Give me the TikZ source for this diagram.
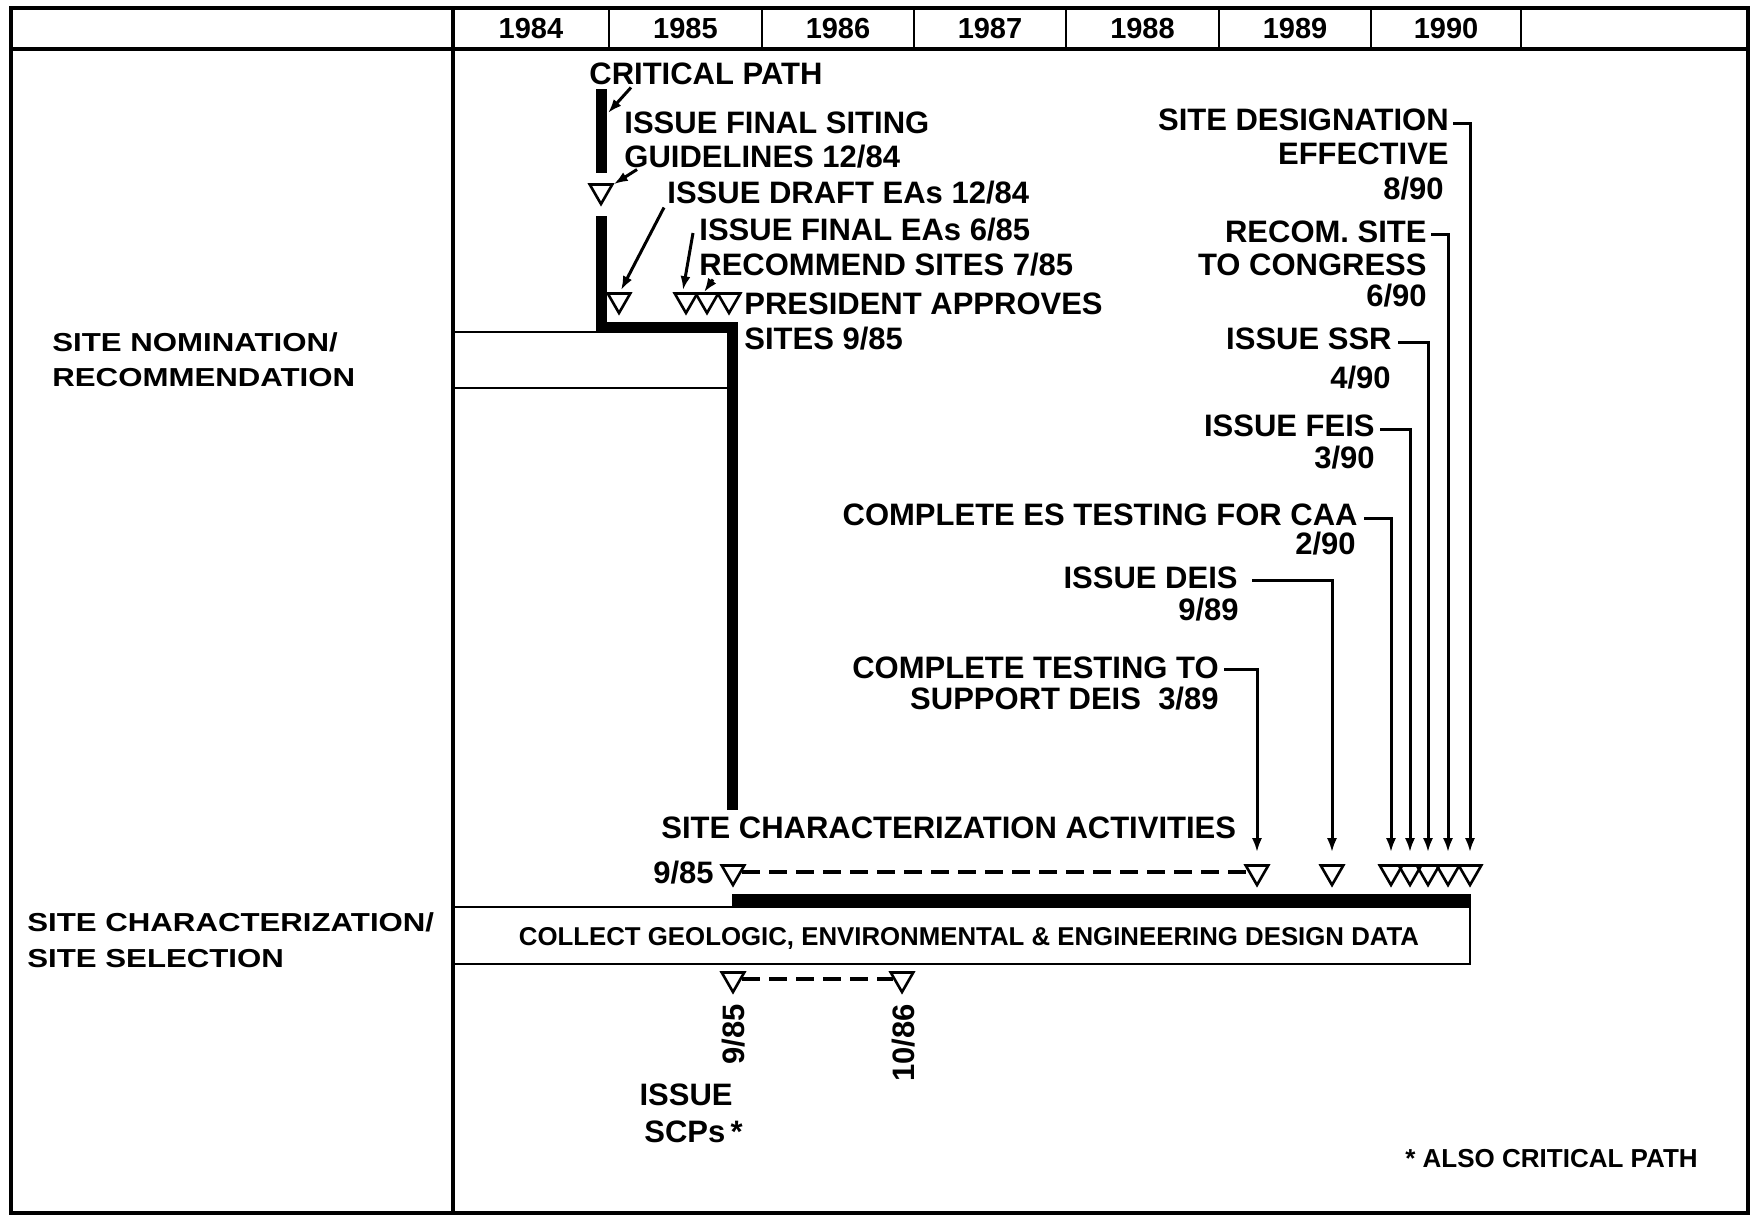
\documentclass[tikz,border=0pt]{standalone}
\usepackage{fontspec}
\setmainfont{Liberation Sans}
\newfontfamily\widefont{Liberation Sans}[FakeStretch=1.2]
\usetikzlibrary{arrows.meta,shapes.geometric}
\begin{document}
\begin{tikzpicture}[x=0.5pt,y=-0.5pt,
  frame/.style={line width=2pt},
  thinln/.style={line width=1.4pt},
  crit/.style={line width=5.5pt},
  conn/.style={line width=1.5pt},
  arr/.style={conn,-{Latex[length=7pt,width=5pt]}},
  dline/.style={line width=2pt,dash pattern=on 9pt off 4.5pt},
  tri/.style={draw,regular polygon,regular polygon sides=3,shape border rotate=180,
    minimum size=13pt,inner sep=0pt,line width=1.3pt},
  lab/.style={font=\bfseries\fontsize{15.5}{16}\selectfont,inner sep=0pt,text height=11.1pt,text depth=0pt},
  yr/.style={font=\bfseries\fontsize{14.5}{15}\selectfont,inner sep=0pt,text height=10.4pt,text depth=0pt},
  wlab/.style={font=\widefont\bfseries\fontsize{13}{14}\selectfont,inner sep=0pt,text height=9.3pt,text depth=0pt,anchor=west},
  clab/.style={font=\bfseries\fontsize{12.9}{13}\selectfont,inner sep=0pt,text height=9.2pt,text depth=0pt},
  nlab/.style={font=\bfseries\fontsize{13}{14}\selectfont,inner sep=0pt,text height=9.3pt,text depth=0pt}
]
\fill[white] (0,0) rectangle (1753,1216);
\useasboundingbox (0,0) rectangle (1753,1216);

% frame and header
\draw[frame] (11,8) rectangle (1748,1213);
\draw[frame] (11,49) -- (1748,49);
\draw[frame] (453,8) -- (453,1213);
\foreach \x in {609,762,914,1066,1219,1371,1521}
  \draw[thinln] (\x,8) -- (\x,49);
\node[yr] (y84) at (531,28) {1984};
\node[yr] (y85) at (685.5,28) {1985};
\node[yr] (y86) at (838,28) {1986};
\node[yr] (y87) at (990,28) {1987};
\node[yr] (y88) at (1142.5,28) {1988};
\node[yr] (y89) at (1295,28) {1989};
\node[yr] (y90) at (1446,28) {1990};

% row labels
\node[wlab] (sn1) at (52,342) {SITE NOMINATION/};
\node[wlab] (sn2) at (52,377) {RECOMMENDATION};
\node[wlab] (sc1) at (27,922) {SITE CHARACTERIZATION/};
\node[wlab] (sc2) at (27,958) {SITE SELECTION};

% critical path (site nomination)
\draw[crit] (601,89) -- (601,173);
\node[tri] (t1) at (601,191) {};
\draw[crit,line join=miter] (601,216) -- (601,327.5) -- (732,327.5) -- (732,810);
\draw[thinln] (453,332) -- (596,332);
\draw[thinln] (453,388) -- (727,388);
\node[tri] (t2) at (619,300) {};
\node[tri] (t3) at (686,300) {};
\node[tri] (t4) at (707,300) {};
\node[tri] (t5) at (729,300) {};

\node[lab,anchor=west] (cp) at (589,73) {CRITICAL PATH};
\node[lab,anchor=west] (ifs) at (624,122) {ISSUE FINAL SITING};
\node[lab,anchor=west] (gl) at (624,156) {GUIDELINES 12/84};
\node[lab,anchor=west] (ide) at (667,192) {ISSUE DRAFT EAs 12/84};
\node[lab,anchor=west] (ife) at (699,229) {ISSUE FINAL EAs 6/85};
\node[lab,anchor=west] (rs) at (699,264) {RECOMMEND SITES 7/85};
\node[lab,anchor=west] (pa) at (744,303) {PRESIDENT APPROVES};
\node[lab,anchor=west] (s985) at (744,338) {SITES 9/85};

\coordinate (cpbar) at (608,113);
\draw[arr] ([shift={(42,3)}]cp.south west) -- (cpbar);
\draw[arr] ([shift={(13,2)}]gl.south west) -- ([shift={(5,1)}]t1.north east);
\draw[arr] ([shift={(-3,4)}]ide.south west) -- ([shift={(2,-2)}]t2.north);
\draw[arr] ([shift={(-6,4)}]ife.west) -- ([shift={(-3,-2)}]t3.north);
\draw[arr] ([shift={(14,4)}]rs.south west) -- ([shift={(-3,0)}]t4.north);

% right-side milestones
\node[lab,anchor=east] (sd) at (1449,119) {SITE DESIGNATION};
\node[lab,anchor=east] (eff) at (1449,153) {EFFECTIVE};
\node[lab,anchor=east] (d890) at (1444,188) {8/90};
\node[lab,anchor=east] (rcs) at (1427,231) {RECOM. SITE};
\node[lab,anchor=east] (tc) at (1427,264) {TO CONGRESS};
\node[lab,anchor=east] (d690) at (1427,295) {6/90};
\node[lab,anchor=east] (ssr) at (1392,338) {ISSUE SSR};
\node[lab,anchor=east] (d490) at (1391,377) {4/90};
\node[lab,anchor=east] (feis) at (1375,425) {ISSUE FEIS};
\node[lab,anchor=east] (d390) at (1375,457) {3/90};
\node[lab,anchor=east] (caa) at (1358,514) {COMPLETE ES TESTING FOR CAA};
\node[lab,anchor=east] (d290) at (1356,543) {2/90};
\node[lab,anchor=east] (deis) at (1238,577) {ISSUE DEIS};
\node[lab,anchor=east] (d989) at (1239,609) {9/89};
\node[lab,anchor=east] (ctt) at (1219,667) {COMPLETE TESTING TO};
\node[lab,anchor=east] (sup) at (1219,698) {SUPPORT DEIS\ \ 3/89};
\node[lab,anchor=west] (sca) at (661,827) {SITE CHARACTERIZATION ACTIVITIES};

% site characterization milestones
\node[tri] (bw) at (733,872) {};
\node[lab,anchor=east] (l985) at (714,872) {9/85};
\node[tri] (b1) at (1257,872) {};
\node[tri] (b2) at (1332,872) {};
\node[tri] (b3) at (1391,872) {};
\node[tri] (b4) at (1410,872) {};
\node[tri] (b5) at (1428,872) {};
\node[tri] (b6) at (1448,872) {};
\node[tri] (b7) at (1470,872) {};
\draw[dline] (bw.east) -- (b1.west);

\draw[arr,shorten >=6pt] ([shift={(4,4)}]sd.east) -| (b7.north);
\draw[arr,shorten >=6pt] ([shift={(4,3)}]rcs.east) -| (b6.north);
\draw[arr,shorten >=6pt] ([shift={(6,4)}]ssr.east) -| (b5.north);
\draw[arr,shorten >=6pt] ([shift={(5,4)}]feis.east) -| (b4.north);
\draw[arr,shorten >=6pt] ([shift={(6,4)}]caa.east) -| (b3.north);
\draw[arr,shorten >=6pt] ([shift={(14,3)}]deis.east) -| (b2.north);
\draw[arr,shorten >=6pt] ([shift={(5,2)}]ctt.east) -| (b1.north);

% data collection bar
\fill (732,894) rectangle (1471,908);
\draw[thinln] (453,907) -| (1470,964) -- (453,964);
\node[clab] (cg) at (969,936) {COLLECT GEOLOGIC, ENVIRONMENTAL \& ENGINEERING DESIGN DATA};

% SCPs
\node[tri] (s1) at (733,979) {};
\node[tri] (s2) at (902,979) {};
\draw[dline] (s1.east) -- (s2.west);
\node[lab,rotate=90,anchor=east] (r1) at (733,1004) {9/85};
\node[lab,rotate=90,anchor=east] (r2) at (903,1004) {10/86};
\node[lab,anchor=east] (iss) at (733,1094) {ISSUE};
\node[lab,anchor=east] (scp) at (743,1131) {SCPs\,*};

\node[nlab,anchor=west] (note) at (1405,1158) {* ALSO CRITICAL PATH};
\end{tikzpicture}
\end{document}
